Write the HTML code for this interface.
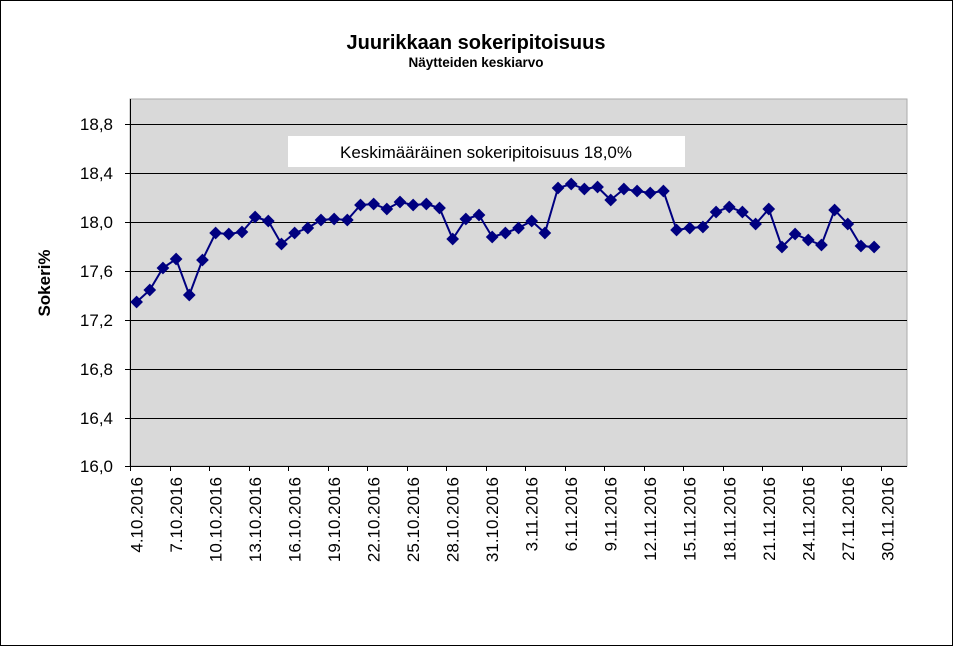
<!DOCTYPE html>
<html><head><meta charset="utf-8"><style>
html,body{margin:0;padding:0;background:#fff}
svg{display:block;font-family:"Liberation Sans",Arial,sans-serif}
</style></head><body>
<svg width="953" height="646" viewBox="0 0 953 646" xmlns="http://www.w3.org/2000/svg">
<rect x="0.5" y="0.5" width="952" height="645" fill="#fff" stroke="#000"/>
<text x="476" y="49" text-anchor="middle" font-size="20" font-weight="bold">Juurikkaan sokeripitoisuus</text>
<text x="476" y="67" text-anchor="middle" font-size="13.5" font-weight="bold">Näytteiden  keskiarvo</text>
<rect x="130" y="99" width="777" height="367" fill="#d9d9d9" stroke="#aaa"/>
<g stroke="#000" stroke-width="1">
<line x1="125" x2="907" y1="124.5" y2="124.5"/>
<line x1="125" x2="907" y1="173.5" y2="173.5"/>
<line x1="125" x2="907" y1="222.5" y2="222.5"/>
<line x1="125" x2="907" y1="271.5" y2="271.5"/>
<line x1="125" x2="907" y1="320.5" y2="320.5"/>
<line x1="125" x2="907" y1="369.5" y2="369.5"/>
<line x1="125" x2="907" y1="418.5" y2="418.5"/>
<line x1="125" x2="907" y1="466.5" y2="466.5"/>
<line x1="130.5" x2="130.5" y1="99" y2="466"/>
</g>
<g id="xt" stroke="#000"></g>
<g font-size="17" text-anchor="end">
<text x="113" y="130">18,8</text>
<text x="113" y="179">18,4</text>
<text x="113" y="228">18,0</text>
<text x="113" y="277">17,6</text>
<text x="113" y="326">17,2</text>
<text x="113" y="375">16,8</text>
<text x="113" y="424">16,4</text>
<text x="113" y="472">16,0</text>
</g>
<text transform="translate(50,283) rotate(-90)" text-anchor="middle" font-size="17" font-weight="bold">Sokeri%</text>
<rect x="288" y="136" width="397" height="31" fill="#fff"/>
<text x="486" y="158" text-anchor="middle" font-size="17">Keskimääräinen sokeripitoisuus 18,0%</text>
<g id="lbl" font-size="17" text-anchor="end"></g>
<polyline id="ln" fill="none" stroke="#000080" stroke-width="2"/>
<g id="mk" fill="#000080"></g>
</svg>
<script>
var ys=[302,290,268,259,295,260,233,234,232,217,221,244,233,228,220,219,220,205,204,209,202,205,204,208,239,219,215,237,233,228,221,233,188,184,189,187,200,189,191,193,191,230,228,227,212,207,212,224,209,247,234,240,245,210,224,246,247];
var ns="http://www.w3.org/2000/svg",pts=[],mk=document.getElementById('mk');
ys.forEach(function(y,i){var x=136.6+i*13.17;pts.push(x.toFixed(1)+","+y);
var r=document.createElementNS(ns,'rect');r.setAttribute('x',x-4.5);r.setAttribute('y',y-4.5);r.setAttribute('width',9);r.setAttribute('height',9);
r.setAttribute('transform','rotate(45 '+x+' '+y+')');mk.appendChild(r);});
document.getElementById('ln').setAttribute('points',pts.join(' '));
var labels=["4.10.2016","7.10.2016","10.10.2016","13.10.2016","16.10.2016","19.10.2016","22.10.2016","25.10.2016","28.10.2016","31.10.2016","3.11.2016","6.11.2016","9.11.2016","12.11.2016","15.11.2016","18.11.2016","21.11.2016","24.11.2016","27.11.2016","30.11.2016"];
var g=document.getElementById('lbl');
labels.forEach(function(t,k){var x=136.6+k*3*13.17+6;var e=document.createElementNS(ns,'text');
e.setAttribute('transform','translate('+x.toFixed(1)+',477) rotate(-90)');e.textContent=t;g.appendChild(e);});
var xt=document.getElementById('xt');
for(var k=0;k<=19;k++){var x=Math.round(130+k*3*13.17)+0.5;var l=document.createElementNS(ns,'line');
l.setAttribute('x1',x);l.setAttribute('x2',x);l.setAttribute('y1',466);l.setAttribute('y2',471);xt.appendChild(l);}
</script>
</body></html>
